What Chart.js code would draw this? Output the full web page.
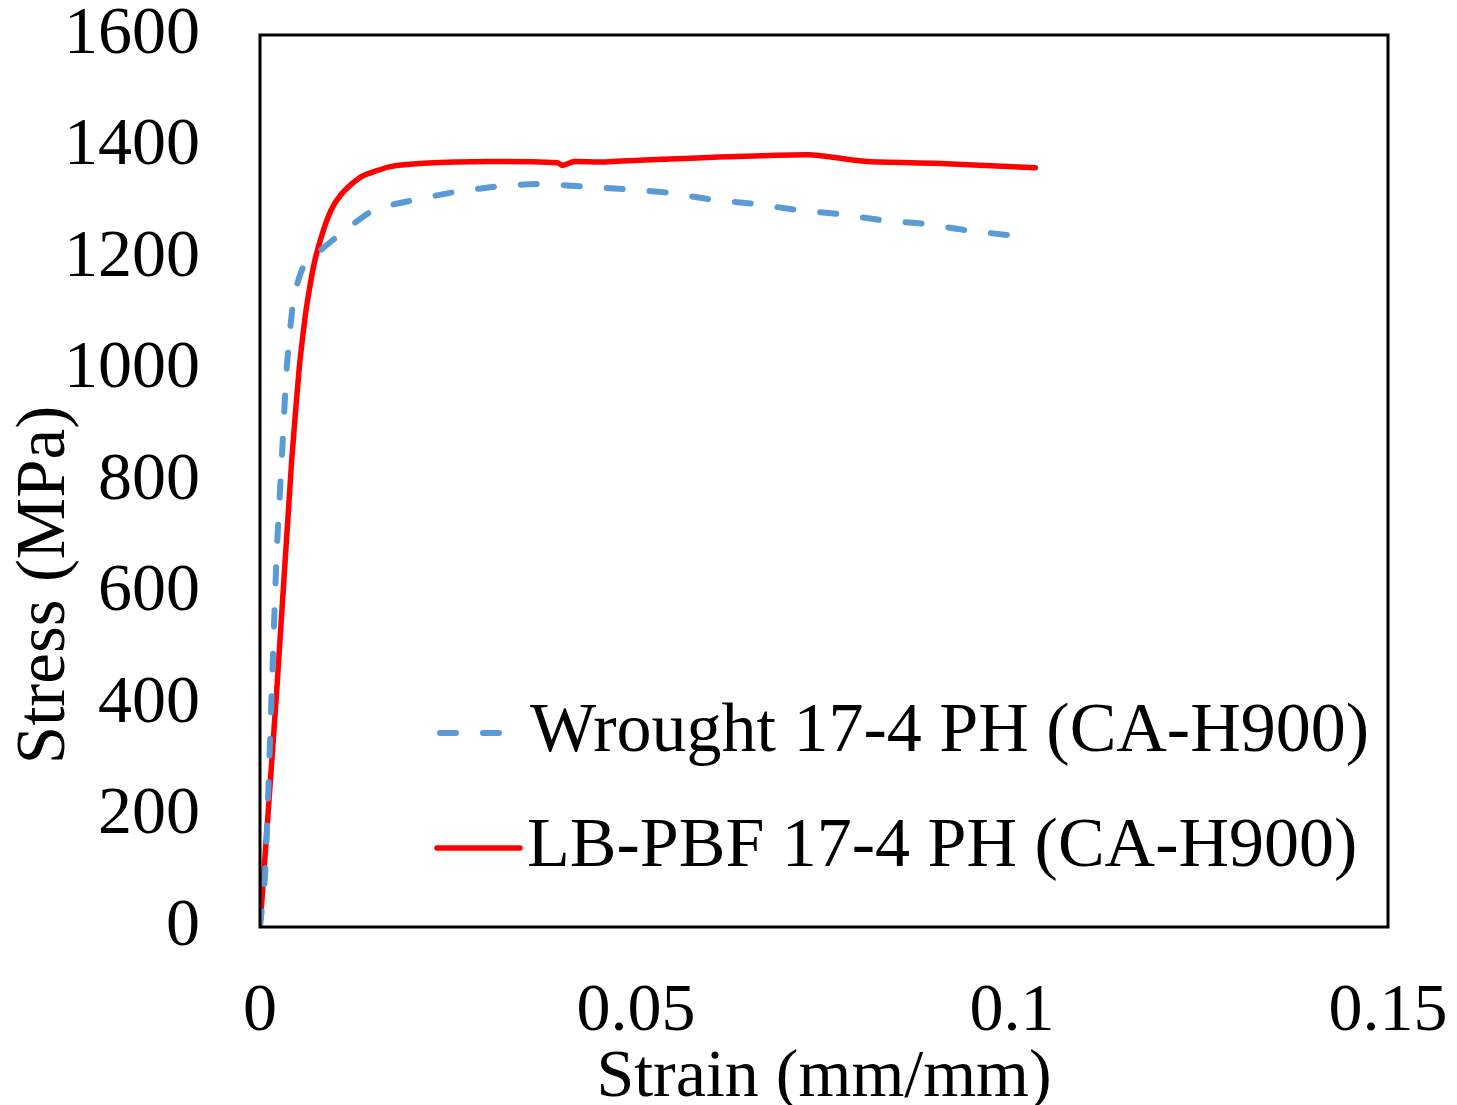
<!DOCTYPE html>
<html lang="en">
  <head>
    <meta charset="UTF-8" />
    <title>Stress-Strain</title>
    <script src="https://cdn.jsdelivr.net/npm/chart.js@4.4.0/dist/chart.umd.min.js"></script>
    <style>
      body {
        margin: 0;
        background: #ffffff;
      }
      #wrap {
        width: 1457px;
        height: 1105px;
      }
    </style>
  </head>
  <body>
    <div id="wrap">
      <canvas id="ssChart" width="1457" height="1105"></canvas>
    </div>
    <script>
      // values
      const seriesNames = ["Wrought 17-4 PH (CA-H900)", "LB-PBF 17-4 PH (CA-H900)"];
      const xTicks = [0, 0.05, 0.1, 0.15];
      const yTicks = [0, 200, 400, 600, 800, 1000, 1200, 1400, 1600];

      const wroughtStrain = [0, 0.00067, 0.00156, 0.00222, 0.00289, 0.00356, 0.00444, 0.0051, 0.0058, 0.00756,
        0.01022, 0.01511, 0.02044, 0.02622, 0.032, 0.03733, 0.04311, 0.04889, 0.05422, 0.06, 0.06578,
        0.07156, 0.07689, 0.08267, 0.08844, 0.09378, 0.09956, 0.1009];
      const wroughtStress = [0, 93, 423, 671, 838, 1003, 1126, 1160, 1185, 1208,
        1238, 1286, 1304, 1319, 1329, 1333, 1328, 1323, 1317, 1305, 1297,
        1286, 1279, 1268, 1261, 1250, 1241, 1238];

      const lbpbfStrain = [0, 0.00222, 0.00422, 0.0052, 0.00578, 0.00622, 0.0072, 0.00844, 0.0095, 0.01067,
        0.0122, 0.01378, 0.01733, 0.02178, 0.03067, 0.03956, 0.04022, 0.04178, 0.04533, 0.05333,
        0.07289, 0.08089, 0.08978, 0.1031];
      const lbpbfStress = [0, 423, 838, 1000, 1070, 1115, 1190, 1250, 1287, 1312,
        1333, 1348, 1364, 1370, 1373, 1371, 1366, 1373, 1372, 1377,
        1385, 1373, 1370, 1362];

      const toPoints = (xs, ys) => xs.map((x, i) => ({ x: x, y: ys[i] }));
      const serif = "'Liberation Serif', 'Times New Roman', serif";

      // frame, y title and the in-plot legend
      const extras = {
        id: "extras",
        afterDraw(chart) {
          const ctx = chart.ctx;
          const a = chart.chartArea;
          ctx.save();
          ctx.strokeStyle = "#000";
          ctx.lineWidth = 3;
          ctx.strokeRect(a.left, a.top, a.right - a.left, a.bottom - a.top);

          ctx.fillStyle = "#000";
          ctx.font = "69px " + serif;
          ctx.textAlign = "center";
          ctx.textBaseline = "middle";
          ctx.translate(46, 585);
          ctx.rotate(-Math.PI / 2);
          ctx.fillText("Stress (MPa)", 0, 0);
          ctx.restore();

          const rows = [733, 848];
          chart.data.datasets.forEach((ds, i) => {
            const y = rows[i];
            ctx.save();
            ctx.strokeStyle = ds.borderColor;
            ctx.lineWidth = ds.borderWidth;
            ctx.lineCap = ds.borderCapStyle || "butt";
            ctx.setLineDash(ds.borderDash || []);
            ctx.beginPath();
            ctx.moveTo(i === 0 ? 440 : 437, y);
            ctx.lineTo(i === 0 ? 502 : 520, y);
            ctx.stroke();
            ctx.setLineDash([]);
            ctx.fillStyle = "#000";
            ctx.font = "70px " + serif;
            ctx.textAlign = "left";
            ctx.textBaseline = "middle";
            ctx.fillText(ds.label, i === 0 ? 530 : 527, y);
            ctx.restore();
          });
        }
      };

      new Chart(document.getElementById("ssChart"), {
        type: "scatter",
        data: {
          datasets: [
            {
              label: seriesNames[0],
              data: toPoints(wroughtStrain, wroughtStress),
              showLine: true,
              borderColor: "#5B9BD5",
              borderWidth: 6,
              borderDash: [16, 27],
              borderCapStyle: "round",
              pointRadius: 0,
              tension: 0.2
            },
            {
              label: seriesNames[1],
              data: toPoints(lbpbfStrain, lbpbfStress),
              showLine: true,
              borderColor: "#FF0000",
              borderWidth: 5.5,
              borderCapStyle: "round",
              borderJoinStyle: "round",
              pointRadius: 0,
              tension: 0.2
            }
          ]
        },
        options: {
          responsive: false,
          animation: false,
          layout: { padding: { top: 35, right: 69, left: 0, bottom: 0 } },
          plugins: {
            legend: { display: false },
            tooltip: { enabled: false }
          },
          scales: {
            x: {
              type: "linear",
              min: 0,
              max: 0.15,
              afterBuildTicks: (s) => { s.ticks = xTicks.map((v) => ({ value: v })); },
              afterFit: (s) => { s.height = 178; s.paddingLeft = 0; s.paddingRight = 0; },
              grid: { display: false, drawTicks: false },
              border: { display: false },
              ticks: {
                color: "#000",
                font: { family: serif, size: 68 },
                padding: 44,
                maxRotation: 0,
                autoSkip: false,
                callback: (v) => String(v)
              },
              title: {
                display: true,
                text: "Strain (mm/mm)",
                color: "#000",
                font: { family: serif, size: 68 },
                padding: { top: 20, bottom: -14 }
              }
            },
            y: {
              min: 0,
              max: 1600,
              afterBuildTicks: (s) => { s.ticks = yTicks.map((v) => ({ value: v })); },
              afterFit: (s) => { s.width = 260; s.paddingTop = 0; s.paddingBottom = 0; },
              grid: { display: false, drawTicks: false },
              border: { display: false },
              ticks: {
                color: "#000",
                font: { family: serif, size: 68 },
                padding: 60,
                callback: (v) => String(v)
              }
            }
          }
        },
        plugins: [extras]
      });
    </script>
  </body>
</html>
